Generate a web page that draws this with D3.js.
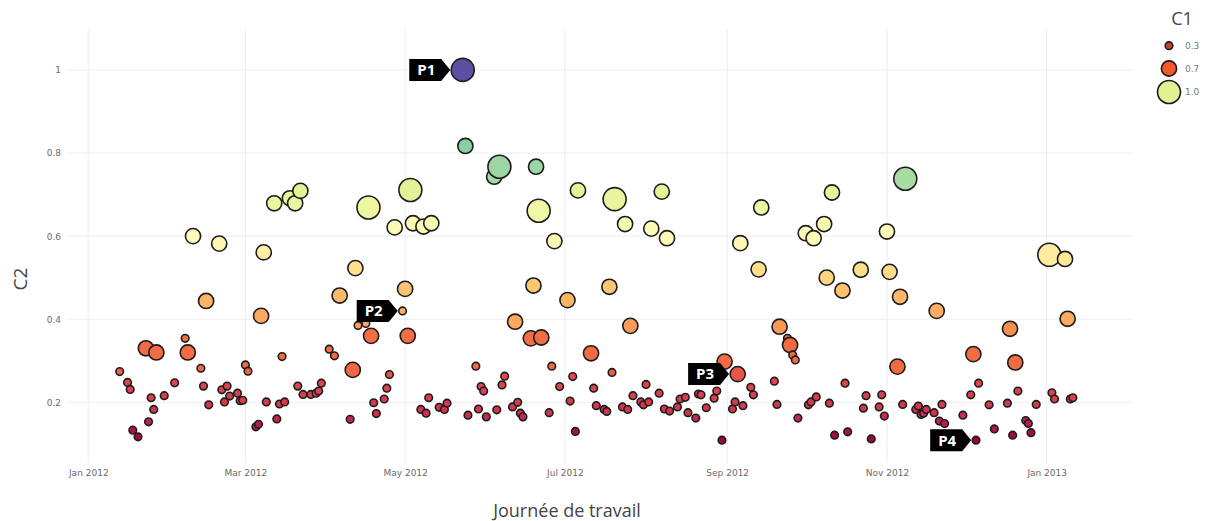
<!DOCTYPE html>
<html><head><meta charset="utf-8">
<script src="https://cdn.jsdelivr.net/npm/d3@7"></script>
<style>body{margin:0;background:#fff}svg{display:block}</style>
</head><body>
<svg id="chart" width="1210" height="521"></svg>
<script>
// ---------- DATA ----------
const dates = [
"2012-01-13","2012-01-16","2012-01-17","2012-01-18","2012-01-20","2012-01-23","2012-01-24","2012-01-25","2012-01-26","2012-01-27",
"2012-01-30","2012-02-03","2012-02-07","2012-02-08","2012-02-10","2012-02-13","2012-02-14","2012-02-15","2012-02-16","2012-02-20",
"2012-02-21","2012-02-22","2012-02-23","2012-02-24","2012-02-27","2012-02-28","2012-02-29","2012-03-01","2012-03-02","2012-03-05",
"2012-03-06","2012-03-07","2012-03-08","2012-03-09","2012-03-12","2012-03-13","2012-03-14","2012-03-15","2012-03-16","2012-03-18",
"2012-03-20","2012-03-21","2012-03-22","2012-03-23","2012-03-26","2012-03-28","2012-03-29","2012-03-30","2012-04-02","2012-04-04",
"2012-04-06","2012-04-10","2012-04-11","2012-04-12","2012-04-13","2012-04-16","2012-04-17","2012-04-18","2012-04-19","2012-04-20",
"2012-04-23","2012-04-24","2012-04-25","2012-04-27","2012-04-30","2012-05-01","2012-05-02","2012-05-03","2012-05-04","2012-05-07",
"2012-05-08","2012-05-09","2012-05-10","2012-05-11","2012-05-14","2012-05-16","2012-05-17","2012-05-23","2012-05-24","2012-05-25",
"2012-05-28","2012-05-29","2012-05-30","2012-05-31","2012-06-01","2012-06-04","2012-06-05","2012-06-06","2012-06-07","2012-06-08",
"2012-06-11","2012-06-12","2012-06-13","2012-06-14","2012-06-15","2012-06-18","2012-06-19","2012-06-20","2012-06-21","2012-06-22",
"2012-06-25","2012-06-26","2012-06-27","2012-06-29","2012-07-02","2012-07-03","2012-07-04","2012-07-05","2012-07-06","2012-07-11",
"2012-07-12","2012-07-13","2012-07-16","2012-07-17","2012-07-18","2012-07-19","2012-07-20","2012-07-23","2012-07-24","2012-07-25",
"2012-07-26","2012-07-27","2012-07-30","2012-07-31","2012-08-01","2012-08-02","2012-08-03","2012-08-06","2012-08-07","2012-08-08",
"2012-08-09","2012-08-10","2012-08-13","2012-08-14","2012-08-16","2012-08-17","2012-08-20","2012-08-21","2012-08-22","2012-08-24",
"2012-08-27","2012-08-28","2012-08-30","2012-08-31","2012-09-03","2012-09-04","2012-09-05","2012-09-06","2012-09-07","2012-09-10",
"2012-09-11","2012-09-13","2012-09-14","2012-09-19","2012-09-20","2012-09-21","2012-09-24","2012-09-25","2012-09-26","2012-09-27",
"2012-09-28","2012-10-01","2012-10-02","2012-10-03","2012-10-04","2012-10-05","2012-10-08","2012-10-09","2012-10-10","2012-10-11",
"2012-10-12","2012-10-15","2012-10-16","2012-10-17","2012-10-22","2012-10-23","2012-10-24","2012-10-26","2012-10-29","2012-10-30",
"2012-10-31","2012-11-01","2012-11-02","2012-11-05","2012-11-06","2012-11-07","2012-11-08","2012-11-12","2012-11-13","2012-11-14",
"2012-11-15","2012-11-16","2012-11-19","2012-11-20","2012-11-21","2012-11-22","2012-11-23","2012-11-30","2012-12-03","2012-12-04",
"2012-12-05","2012-12-06","2012-12-10","2012-12-12","2012-12-17","2012-12-18","2012-12-19","2012-12-20","2012-12-21","2012-12-24",
"2012-12-25","2012-12-26","2012-12-28","2013-01-02","2013-01-03","2013-01-04","2013-01-08","2013-01-09","2013-01-10","2013-01-11"
];
const c2 = [
0.274,0.248,0.231,0.133,0.117,0.330,0.153,0.211,0.183,0.320,
0.216,0.247,0.354,0.320,0.600,0.282,0.239,0.444,0.194,0.582,
0.230,0.201,0.239,0.215,0.222,0.204,0.205,0.290,0.275,0.141,
0.147,0.408,0.561,0.201,0.679,0.160,0.196,0.310,0.201,0.691,
0.679,0.239,0.709,0.219,0.219,0.222,0.227,0.246,0.328,0.312,
0.457,0.159,0.278,0.523,0.385,0.390,0.669,0.360,0.199,0.173,
0.208,0.234,0.267,0.621,0.420,0.473,0.360,0.711,0.631,0.183,
0.623,0.174,0.211,0.631,0.188,0.183,0.198,1.000,0.817,0.169,
0.287,0.184,0.238,0.227,0.165,0.743,0.182,0.767,0.242,0.263,
0.189,0.394,0.200,0.174,0.165,0.354,0.481,0.767,0.661,0.356,
0.175,0.287,0.588,0.238,0.446,0.203,0.262,0.130,0.710,0.318,
0.234,0.192,0.183,0.178,0.478,0.272,0.689,0.189,0.629,0.183,
0.384,0.216,0.201,0.194,0.243,0.201,0.618,0.222,0.707,0.184,
0.595,0.179,0.189,0.208,0.212,0.175,0.162,0.220,0.218,0.187,
0.210,0.227,0.109,0.298,0.184,0.201,0.268,0.583,0.192,0.236,
0.218,0.520,0.669,0.251,0.195,0.382,0.354,0.338,0.314,0.302,
0.162,0.607,0.194,0.201,0.595,0.213,0.629,0.500,0.198,0.705,
0.121,0.469,0.246,0.129,0.519,0.186,0.216,0.112,0.189,0.218,
0.167,0.611,0.514,0.286,0.454,0.195,0.738,0.183,0.191,0.171,
0.174,0.183,0.175,0.420,0.155,0.195,0.149,0.169,0.218,0.316,
0.109,0.246,0.194,0.136,0.198,0.377,0.121,0.296,0.227,0.156,
0.149,0.127,0.195,0.555,0.223,0.208,0.545,0.401,0.208,0.211
];
const c1 = [
0.3,0.3,0.3,0.3,0.3,0.7,0.3,0.3,0.3,0.7,
0.3,0.3,0.3,0.7,0.7,0.3,0.3,0.7,0.3,0.7,
0.3,0.3,0.3,0.3,0.3,0.3,0.3,0.3,0.3,0.3,
0.3,0.7,0.7,0.3,0.7,0.3,0.3,0.3,0.3,0.7,
0.7,0.3,0.7,0.3,0.3,0.3,0.3,0.3,0.3,0.3,
0.7,0.3,0.7,0.7,0.3,0.3,1.0,0.7,0.3,0.3,
0.3,0.3,0.3,0.7,0.3,0.7,0.7,1.0,0.7,0.3,
0.7,0.3,0.3,0.7,0.3,0.3,0.3,1.0,0.7,0.3,
0.3,0.3,0.3,0.3,0.3,0.7,0.3,1.0,0.3,0.3,
0.3,0.7,0.3,0.3,0.3,0.7,0.7,0.7,1.0,0.7,
0.3,0.3,0.7,0.3,0.7,0.3,0.3,0.3,0.7,0.7,
0.3,0.3,0.3,0.3,0.7,0.3,1.0,0.3,0.7,0.3,
0.7,0.3,0.3,0.3,0.3,0.3,0.7,0.3,0.7,0.3,
0.7,0.3,0.3,0.3,0.3,0.3,0.3,0.3,0.3,0.3,
0.3,0.3,0.3,0.7,0.3,0.3,0.7,0.7,0.3,0.3,
0.3,0.7,0.7,0.3,0.3,0.7,0.3,0.7,0.3,0.3,
0.3,0.7,0.3,0.3,0.7,0.3,0.7,0.7,0.3,0.7,
0.3,0.7,0.3,0.3,0.7,0.3,0.3,0.3,0.3,0.3,
0.3,0.7,0.7,0.7,0.7,0.3,1.0,0.3,0.3,0.3,
0.3,0.3,0.3,0.7,0.3,0.3,0.3,0.3,0.3,0.7,
0.3,0.3,0.3,0.3,0.3,0.7,0.3,0.7,0.3,0.3,
0.3,0.3,0.3,1.0,0.3,0.3,0.7,0.7,0.3,0.3
];
const labelNames = ["P1","P2","P3","P4"];
const labelDates = ["2012-05-23","2012-04-30","2012-09-05","2012-12-05"];
const xTickDates = ["2012-01-01","2012-03-01","2012-05-01","2012-07-01","2012-09-01","2012-11-01","2013-01-01"];
const yTickValues = [0.2,0.4,0.6,0.8,1];
const legendValues = [0.3,0.7,1.0];
const legendLabels = ["0.3","0.7","1.0"];
const legendColors = ["#c8462e","#f4592a","#e4f192"];
const xTitle = "Journée de travail";
const yTitle = "C2";
const legendTitle = "C1";

// ---------- STYLE / LAYOUT ----------
const colorStops = [0.109,0.14,0.175,0.22,0.262,0.28,0.36,0.39,0.45,0.52,0.6,0.71,0.74,0.82,1.0];
const colorRange = ["#9e0142","#b01845","#cf334f","#d8404f","#e5484d","#f26a42","#f46d43","#fca75d","#fdb566","#fee08b","#fffcbb","#e4f397","#a4daa3","#88cfa4","#5e4fa2"];
const W = 1210, H = 521;
const plot = {left:67, right:1133, top:30, bottom:463};

const parse = d3.utcParse("%Y-%m-%d");
const data = dates.map((d,i)=>({date:parse(d), key:d, c2:c2[i], c1:c1[i]}));

const svg = d3.select("#chart");
svg.append("rect").attr("width",W).attr("height",H).attr("fill","#fff");

const x = d3.scaleUtc()
  .domain([new Date(Date.UTC(2011,11,23,21)), new Date(Date.UTC(2013,1,2,23))])
  .range([plot.left, plot.right]);
const y = d3.scaleLinear().domain([0.054,1.096]).range([plot.bottom, plot.top]);
const r = d3.scaleLinear().domain([0.3,0.7,1.0]).range([3.8,7.6,11.5]);
const color = d3.scaleLinear().domain(colorStops).range(colorRange).interpolate(d3.interpolateRgb).clamp(true);

const xt = xTickDates.map(parse);

// grid
const grid = svg.append("g");
grid.selectAll("line.v").data(xt).join("line")
  .attr("x1",d=>x(d)).attr("x2",d=>x(d)).attr("y1",plot.top).attr("y2",plot.bottom)
  .attr("stroke","#eeeeee").attr("stroke-width",1);
grid.selectAll("line.h").data(yTickValues).join("line")
  .attr("y1",d=>y(d)).attr("y2",d=>y(d)).attr("x1",plot.left).attr("x2",plot.right)
  .attr("stroke","#eeeeee").attr("stroke-width",1);

// axes
const fmtY = d3.format("~g");
const gx = svg.append("g").attr("transform",`translate(0,${plot.bottom})`)
  .call(d3.axisBottom(x).tickValues(xt).tickFormat(d3.utcFormat("%b %Y")).tickSize(0).tickPadding(7));
const gy = svg.append("g").attr("transform",`translate(${plot.left},0)`)
  .call(d3.axisLeft(y).tickValues(yTickValues).tickFormat(fmtY).tickSize(0).tickPadding(6));
[gx,gy].forEach(g=>{
  g.select(".domain").remove();
  g.selectAll("text").attr("font-family","'DejaVu Sans', Verdana, sans-serif").attr("font-size",9).attr("fill","#6a6a6a");
});

// titles
svg.append("text").attr("x",567).attr("y",517).attr("text-anchor","middle")
  .attr("font-family","'Open Sans', sans-serif").attr("font-size",18).attr("fill","#444").text(xTitle);
svg.append("text").attr("transform","translate(27,279) rotate(-90)").attr("text-anchor","middle")
  .attr("font-family","'Open Sans', sans-serif").attr("font-size",19).attr("fill","#444").text(yTitle);

// points
svg.append("g").selectAll("circle").data(data).join("circle")
  .attr("cx",d=>x(d.date)).attr("cy",d=>y(d.c2)).attr("r",d=>r(d.c1))
  .attr("fill",d=>color(d.c2)).attr("stroke","#1c1c1c").attr("stroke-width",1.6);

// annotations
const ann = svg.append("g");
labelNames.forEach((name,i)=>{
  const d = data.find(p=>p.key===labelDates[i]);
  const tx = x(d.date) - r(d.c1) - 1, ty = y(d.c2);
  const h = 11;
  ann.append("path")
    .attr("d",`M${tx-41},${ty-h}L${tx-9},${ty-h}L${tx},${ty}L${tx-9},${ty+h}L${tx-41},${ty+h}Z`)
    .attr("fill","#000");
  ann.append("text").attr("x",tx-24).attr("y",ty).attr("dy","0.36em").attr("text-anchor","middle")
    .attr("font-family","'Open Sans', sans-serif").attr("font-weight","bold").attr("font-size",15)
    .attr("fill","#fff").text(name);
});

// legend
const lg = svg.append("g");
lg.append("text").attr("x",1182).attr("y",25).attr("text-anchor","middle")
  .attr("font-family","'Open Sans', sans-serif").attr("font-size",18).attr("fill","#444").text(legendTitle);
const ly = [45.7,68.5,92];
legendValues.forEach((v,i)=>{
  lg.append("circle").attr("cx",1169).attr("cy",ly[i]).attr("r",r(v))
    .attr("fill",legendColors[i]).attr("stroke","#1c1c1c").attr("stroke-width",1.6);
  lg.append("text").attr("x",1185).attr("y",ly[i]).attr("dy","0.35em")
    .attr("font-family","'DejaVu Sans', Verdana, sans-serif").attr("font-size",9).attr("fill","#777").text(legendLabels[i]);
});
</script>
</body></html>
